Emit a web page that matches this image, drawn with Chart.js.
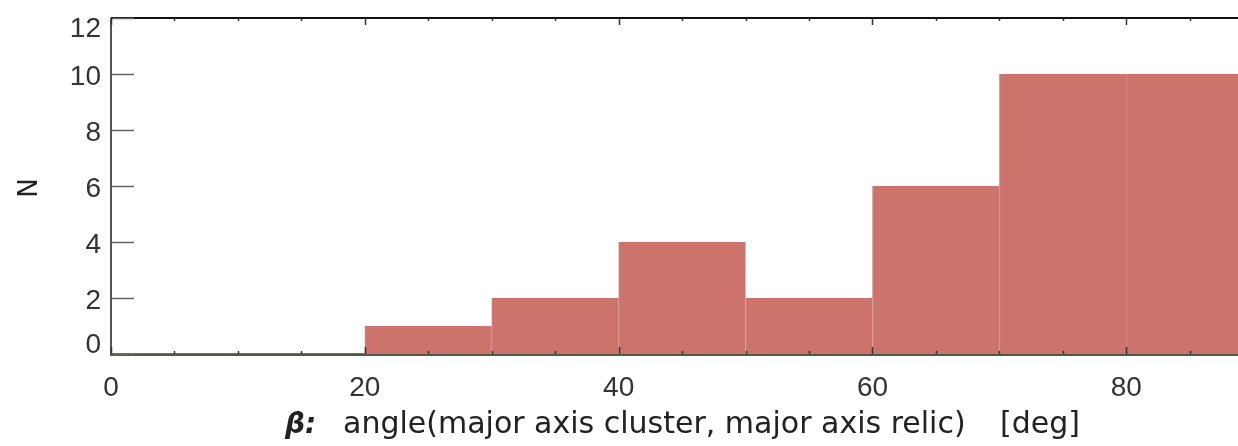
<!DOCTYPE html>
<html>
<head>
<meta charset="utf-8">
<script src="https://cdn.jsdelivr.net/npm/chart.js@4"></script>
<style>
  html, body { margin: 0; padding: 0; background: #fff; overflow: hidden; }
  #wrap { position: relative; width: 1238px; height: 446px; }
</style>
</head>
<body>
<div id="wrap"><canvas id="histChart"></canvas></div>
<script>
// Histogram data (bin centres in deg, counts)
const binCenters = [5, 15, 25, 35, 45, 55, 65, 75, 85];
const counts = [0, 0, 1, 2, 4, 2, 6, 10, 10];
const xTicks = [0, 20, 40, 60, 80];
const xMinorStep = 5;
const yTicks = [0, 2, 4, 6, 8, 10, 12];

const barColor = '#cc736c';
const tickFont = { family: 'Liberation Sans', size: 28 };
const titleFont = 'DejaVu Sans';

// Axis frame, inward ticks, y labels and titles (drawn by hand, IDL style)
const framePlugin = {
    id: 'frame',
    afterDatasetsDraw(chart) {
        const { ctx, chartArea: a, scales: { x, y } } = chart;
        ctx.save();

        // zero-count bins: flat line on the baseline
        ctx.strokeStyle = '#9a5d58';
        ctx.lineWidth = 2;
        binCenters.forEach((c, i) => {
            if (counts[i] === 0) {
                ctx.beginPath();
                ctx.moveTo(x.getPixelForValue(c - 5), y.getPixelForValue(0));
                ctx.lineTo(x.getPixelForValue(c + 5), y.getPixelForValue(0));
                ctx.stroke();
            }
        });

        // bottom + left axis lines
        ctx.strokeStyle = '#555';
        ctx.lineWidth = 2;
        ctx.beginPath();
        ctx.moveTo(a.left, a.top);
        ctx.lineTo(a.left, a.bottom + 1);
        ctx.lineTo(a.right, a.bottom + 1);
        ctx.stroke();
        // top axis
        ctx.strokeStyle = '#111';
        ctx.beginPath();
        ctx.moveTo(a.left, a.top);
        ctx.lineTo(a.right, a.top);
        ctx.stroke();

        // y major ticks (long, inward) + labels
        ctx.strokeStyle = '#666';
        ctx.lineWidth = 1.5;
        ctx.fillStyle = '#333';
        ctx.font = tickFont.size + 'px ' + tickFont.family;
        ctx.textAlign = 'right';
        ctx.textBaseline = 'middle';
        yTicks.forEach(v => {
            const py = Math.round(y.getPixelForValue(v)) + 0.5;
            ctx.beginPath();
            ctx.moveTo(a.left, py);
            ctx.lineTo(a.left + 23, py);
            ctx.stroke();
            const ly = Math.min(Math.max(py + 3, a.top + 11), a.bottom - 9);
            ctx.fillText(String(v), a.left - 10, ly);
        });

        // x ticks top and bottom
        ctx.strokeStyle = '#333';
        for (let v = 0; v <= x.max; v += xMinorStep) {
            const px = Math.round(x.getPixelForValue(v)) + 0.5;
            const len = xTicks.includes(v) ? 7 : 3;
            ctx.beginPath();
            ctx.moveTo(px, a.top);
            ctx.lineTo(px, a.top + len);
            ctx.moveTo(px, a.bottom);
            ctx.lineTo(px, a.bottom - len);
            ctx.stroke();
        }

        // y title
        ctx.fillStyle = '#222';
        ctx.font = '26px ' + titleFont;
        ctx.textAlign = 'center';
        ctx.textBaseline = 'middle';
        ctx.save();
        ctx.translate(30, y.getPixelForValue(6) + 2);
        ctx.rotate(-Math.PI / 2);
        ctx.fillText('N', 0, 0);
        ctx.restore();

        // x title
        ctx.textAlign = 'left';
        ctx.textBaseline = 'alphabetic';
        const ty = 433;
        ctx.font = 'italic bold 28px ' + titleFont;
        ctx.fillText('\u03B2:', 285, ty);
        ctx.font = '30px ' + titleFont;
        ctx.fillText('angle(major axis cluster, major axis relic)', 343, ty);
        ctx.fillText('[deg]', 1000, ty);

        ctx.restore();
    }
};

new Chart(document.getElementById('histChart'), {
    type: 'bar',
    data: {
        datasets: [{
            data: binCenters.map((c, i) => ({ x: c, y: counts[i] })),
            backgroundColor: barColor,
            borderColor: '#d58c85',
            borderWidth: { left: 1, right: 0, top: 0, bottom: 0 },
            borderSkipped: false,
            barPercentage: 1,
            categoryPercentage: 1
        }]
    },
    options: {
        responsive: true,
        maintainAspectRatio: false,
        animation: false,
        layout: { padding: { top: 18, left: 0, right: 0, bottom: 0 } },
        plugins: { legend: { display: false }, tooltip: { enabled: false } },
        scales: {
            x: {
                type: 'linear',
                min: 0,
                max: 88.8,
                offset: false,
                grid: { display: false, drawTicks: false },
                border: { display: false },
                afterBuildTicks: s => { s.ticks = xTicks.map(v => ({ value: v })); },
                afterFit: s => { s.height = 92; },
                ticks: { font: tickFont, color: '#333', padding: 17, maxRotation: 0 }
            },
            y: {
                min: 0,
                max: 12,
                grid: { display: false, drawTicks: false },
                border: { display: false },
                afterBuildTicks: s => { s.ticks = yTicks.map(v => ({ value: v })); },
                afterFit: s => { s.width = 111; s.paddingTop = 0; s.paddingBottom = 0; },
                ticks: { display: false }
            }
        }
    },
    plugins: [framePlugin]
});
</script>
</body>
</html>
